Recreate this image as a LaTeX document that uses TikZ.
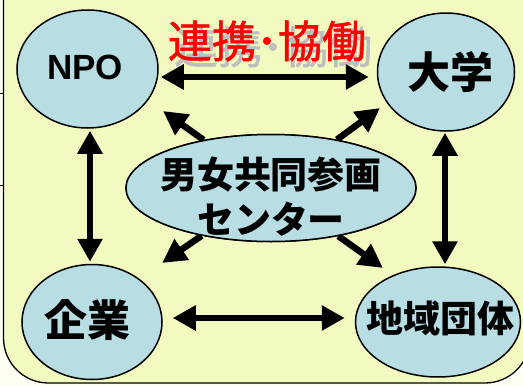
\documentclass[tikz,border=0pt]{standalone}
\usepackage{fontspec}
\setmainfont{Liberation Sans}
\newfontfamily\cjk{Noto Sans CJK JP}
\newfontfamily\cjkmed[FakeBold=1.3]{Noto Sans CJK JP}
\usetikzlibrary{shapes.geometric,arrows.meta}
\definecolor{bgyellow}{RGB}{242,250,192}
\definecolor{ellblue}{RGB}{184,222,228}
\definecolor{paper}{RGB}{255,255,242}
\definecolor{shadowgray}{RGB}{190,190,190}
\begin{document}
\begin{tikzpicture}[x=1pt,y=-1pt,
  ell/.style={ellipse,draw=black,line width=1.5pt,fill=ellblue,inner sep=0pt},
  lbl/.style={inner sep=0pt,text=black},
  cjkbig/.style={font=\cjk\bfseries\fontsize{43}{45}\selectfont},
  titlefont/.style={inner sep=0pt,font=\cjkmed\fontsize{44}{46}\selectfont},
  arr/.style={line width=6.5pt,-{Triangle[length=24pt,width=24pt]}},
  darr/.style={line width=6.5pt,{Triangle[length=23pt,width=24pt]}-{Triangle[length=23pt,width=24pt]}}]
\useasboundingbox (0,0) rectangle (523,386);
\clip (0,0) rectangle (523,386);
% background
\fill[paper] (0,0) rectangle (523,386);
\draw[fill=bgyellow,line width=1.3pt,rounded corners=45pt] (3.5,-60) rectangle (530,383);
\draw[line width=1pt] (0,93) -- (3.5,93);
\draw[line width=1pt] (0,185) -- (3.5,185);
% ellipses
\node[ell,minimum width=141,minimum height=118] (npo) at (87.5,69) {};
\node[ell,minimum width=137,minimum height=118] (univ) at (446,72) {};
\node[ell,minimum width=140,minimum height=115] (corp) at (92,322) {};
\node[ell,minimum width=165,minimum height=110] (local) at (438,322) {};
% free ends of the diagonal arrows
\coordinate (tNW) at (163,111);
\coordinate (tNE) at (380,108);
\coordinate (tSW) at (162,263);
\coordinate (tSE) at (383,268);
\node[ell,minimum width=290,minimum height=107] (center) at (271,188) {};
\draw[arr] (center) -- (tNW);
\draw[arr] (center) -- (tNE);
\draw[arr] (center) -- (tSW);
\draw[arr] (center) -- (tSE);
\node[ell,minimum width=290,minimum height=107] (centerB) at (center) {};
% labels
\node[lbl,font=\bfseries\fontsize{35}{38}\selectfont] (npoT) at (85,67) {NPO};
\node[lbl,cjkbig] (univT) at (450,72) {大学};
\node[lbl,cjkbig] (corpT) at (88,320) {企業};
\node[lbl,font=\cjk\bfseries\fontsize{37}{40}\selectfont] (localT) at (440,318) {地域団体};
\node[lbl,font=\cjk\bfseries\fontsize{37}{45}\selectfont,align=center] (centerT) at (271,197) {男女共同参画\\センター};
% title with shadow
\node[titlefont,text=shadowgray] (coopS) at (273,47) {連携･協働};
\node[titlefont,text=red] (coop) at ([xshift=-6pt,yshift=6pt]coopS) {連携･協働};
% connectors
\draw[darr] ([xshift=2pt,yshift=-8pt]npo.east) -- ([xshift=-8pt,yshift=-5pt]univ.west);
\draw[darr] ([xshift=2.5pt,yshift=-2pt]npo.south) -- ([xshift=-2pt,yshift=2pt]corp.north);
\draw[darr] ([xshift=-1pt,yshift=-1pt]univ.south) -- ([xshift=7pt,yshift=2pt]local.north);
\draw[darr] ([xshift=10pt,yshift=4pt]corp.east) -- ([xshift=-10pt,yshift=4pt]local.west);
\end{tikzpicture}
\end{document}
